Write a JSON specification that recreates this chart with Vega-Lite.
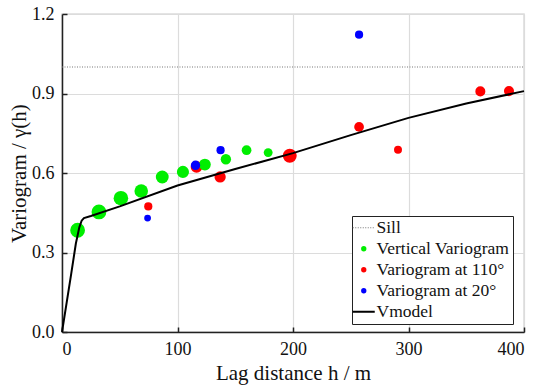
{
  "$schema": "https://vega.github.io/schema/vega-lite/v6.json",
  "width": 462,
  "height": 318,
  "autosize": {"type": "none"},
  "padding": {"left": 62, "top": 14, "right": 15, "bottom": 55},
  "background": "white",
  "config": {
    "font": "Liberation Serif, Times New Roman, serif",
    "view": {"stroke": "#dcdcdc", "strokeWidth": 1.5},
    "axis": {
      "labelFont": "Liberation Serif, Times New Roman, serif",
      "titleFont": "Liberation Serif, Times New Roman, serif",
      "labelFontSize": 18,
      "titleFontSize": 21,
      "titleFontWeight": "normal",
      "labelColor": "#111",
      "titleColor": "#111",
      "domainColor": "#222",
      "domainWidth": 1.5,
      "tickColor": "#222",
      "tickWidth": 1.5,
      "tickSize": -5,
      "gridColor": "#dcdcdc",
      "gridWidth": 1.2
    }
  },
  "datasets": {
    "pts": [
      {"series": "Variogram at 110°", "h": 74.7, "gamma": 0.474, "pairs": 86},
      {"series": "Variogram at 110°", "h": 116.5, "gamma": 0.623, "pairs": 177},
      {"series": "Variogram at 110°", "h": 136.9, "gamma": 0.585, "pairs": 161},
      {"series": "Variogram at 110°", "h": 197.2, "gamma": 0.665, "pairs": 246},
      {"series": "Variogram at 110°", "h": 257.2, "gamma": 0.774, "pairs": 121},
      {"series": "Variogram at 110°", "h": 290.9, "gamma": 0.688, "pairs": 81},
      {"series": "Variogram at 110°", "h": 362.2, "gamma": 0.908, "pairs": 128},
      {"series": "Variogram at 110°", "h": 387.0, "gamma": 0.909, "pairs": 128},
      {"series": "Vertical Variogram", "h": 13.5, "gamma": 0.384, "pairs": 279},
      {"series": "Vertical Variogram", "h": 32.0, "gamma": 0.453, "pairs": 279},
      {"series": "Vertical Variogram", "h": 51.0, "gamma": 0.505, "pairs": 270},
      {"series": "Vertical Variogram", "h": 68.6, "gamma": 0.532, "pairs": 234},
      {"series": "Vertical Variogram", "h": 86.8, "gamma": 0.585, "pairs": 210},
      {"series": "Vertical Variogram", "h": 104.7, "gamma": 0.604, "pairs": 188},
      {"series": "Vertical Variogram", "h": 123.7, "gamma": 0.632, "pairs": 177},
      {"series": "Vertical Variogram", "h": 141.9, "gamma": 0.652, "pairs": 137},
      {"series": "Vertical Variogram", "h": 159.8, "gamma": 0.686, "pairs": 121},
      {"series": "Vertical Variogram", "h": 178.5, "gamma": 0.677, "pairs": 100},
      {"series": "Variogram at 20°", "h": 74.1, "gamma": 0.430, "pairs": 59},
      {"series": "Variogram at 20°", "h": 115.6, "gamma": 0.629, "pairs": 114},
      {"series": "Variogram at 20°", "h": 137.3, "gamma": 0.686, "pairs": 86},
      {"series": "Variogram at 20°", "h": 257.2, "gamma": 1.122, "pairs": 86}
    ],
    "lines": [
      {"series": "Sill", "h": 0, "gamma": 1.0},
      {"series": "Sill", "h": 400, "gamma": 1.0},
      {"series": "Vmodel", "h": 0, "gamma": 0},
      {"series": "Vmodel", "h": 4, "gamma": 0.11},
      {"series": "Vmodel", "h": 8, "gamma": 0.22},
      {"series": "Vmodel", "h": 12, "gamma": 0.334},
      {"series": "Vmodel", "h": 15, "gamma": 0.395},
      {"series": "Vmodel", "h": 17, "gamma": 0.42},
      {"series": "Vmodel", "h": 19, "gamma": 0.43},
      {"series": "Vmodel", "h": 25, "gamma": 0.438},
      {"series": "Vmodel", "h": 50, "gamma": 0.474},
      {"series": "Vmodel", "h": 100, "gamma": 0.553},
      {"series": "Vmodel", "h": 150, "gamma": 0.615},
      {"series": "Vmodel", "h": 200, "gamma": 0.675},
      {"series": "Vmodel", "h": 250, "gamma": 0.743},
      {"series": "Vmodel", "h": 300, "gamma": 0.808},
      {"series": "Vmodel", "h": 350, "gamma": 0.862},
      {"series": "Vmodel", "h": 400, "gamma": 0.909}
    ]
  },
  "encoding": {
    "x": {
      "field": "h", "type": "quantitative",
      "scale": {"domain": [0, 400], "nice": false},
      "axis": {"values": [0, 100, 200, 300, 400], "format": "d", "title": "Lag distance h / m", "labelPadding": 13, "titlePadding": 4}
    },
    "y": {
      "field": "gamma", "type": "quantitative",
      "scale": {"domain": [0, 1.2], "nice": false},
      "axis": {"values": [0, 0.3, 0.6, 0.9, 1.2], "format": ".1f", "title": "Variogram / γ(h)", "labelPadding": 13, "titlePadding": 2}
    },
    "color": {
      "field": "series", "type": "nominal",
      "scale": {
        "domain": ["Sill", "Vertical Variogram", "Variogram at 110°", "Variogram at 20°", "Vmodel"],
        "range": ["#777777", "#00ee00", "#ff0000", "#0000ff", "#000000"]
      },
      "legend": {
        "title": null,
        "orient": "none",
        "legendX": 290,
        "legendY": 202,
        "strokeColor": "#222",
        "fillColor": "white",
        "padding": 3,
        "labelFont": "Liberation Serif, Times New Roman, serif",
        "labelFontSize": 17.5,
        "labelColor": "#111",
        "labelOffset": 4,
        "rowPadding": 2,
        "symbolSize": 441,
        "symbolOpacity": 1,
        "encode": {
          "symbols": {
            "update": {
              "shape": {"signal": "datum.value == 'Sill' || datum.value == 'Vmodel' ? 'stroke' : 'circle'"},
              "size": {"signal": "datum.value == 'Sill' || datum.value == 'Vmodel' ? 484 : 28"},
              "strokeDash": {"signal": "datum.value == 'Sill' ? [1, 1.5] : [1, 0]"},
              "strokeWidth": {"signal": "datum.value == 'Sill' ? 1 : datum.value == 'Vmodel' ? 2 : 0"},
              "stroke": {"signal": "datum.value == 'Sill' ? '#777777' : datum.value == 'Vmodel' ? '#000000' : 'transparent'"},
              "fill": {"signal": "datum.value == 'Vertical Variogram' ? '#00ee00' : datum.value == 'Variogram at 110°' ? '#ff0000' : datum.value == 'Variogram at 20°' ? '#0000ff' : 'transparent'"},
              "opacity": {"value": 1}
            }
          }
        }
      }
    }
  },
  "layer": [
    {
      "data": {"name": "lines"},
      "transform": [{"filter": "datum.series == 'Sill'"}],
      "mark": {"type": "line", "strokeWidth": 1, "strokeDash": [1, 1.5]},
      "encoding": {}
    },
    {
      "data": {"name": "pts"},
      "mark": {"type": "circle", "opacity": 1},
      "encoding": {
        "size": {"field": "pairs", "type": "quantitative", "scale": {"domain": [0, 100], "range": [0, 78.5], "zero": true}, "legend": null}
      }
    },
    {
      "data": {"name": "lines"},
      "transform": [{"filter": "datum.series == 'Vmodel'"}],
      "mark": {"type": "line", "strokeWidth": 2},
      "encoding": {}
    }
  ]
}
